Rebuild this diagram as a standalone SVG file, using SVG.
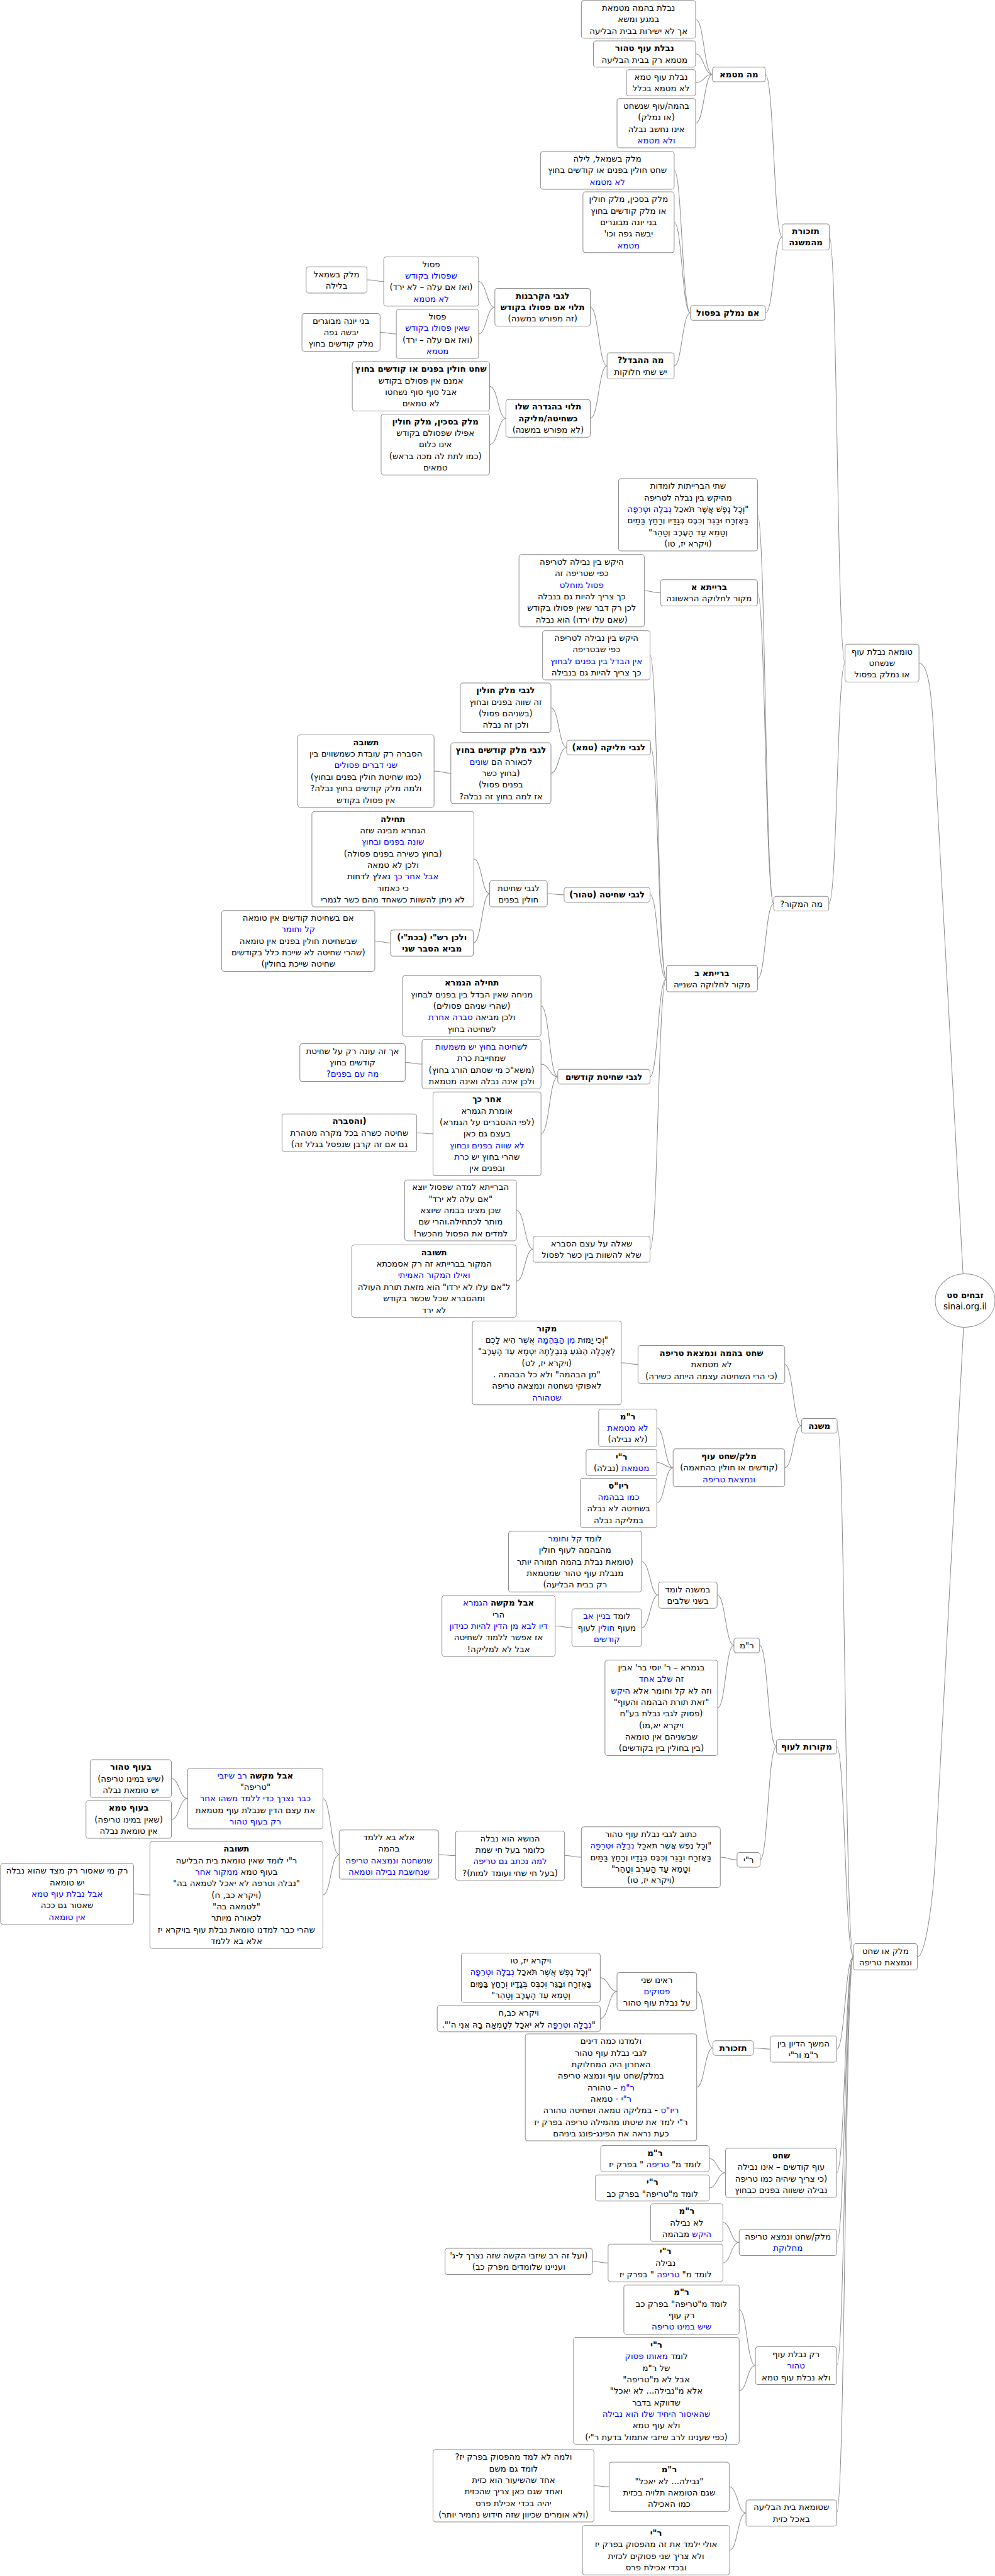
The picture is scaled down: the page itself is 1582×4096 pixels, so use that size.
<svg xmlns="http://www.w3.org/2000/svg" width="1582" height="4096" viewBox="0 0 1582 4096">
<style>
.n rect{fill:#fff;stroke:#8c8c8c;stroke-width:1.2}
.n ellipse{fill:#fff;stroke:#8c8c8c;stroke-width:1.2}
text{font-family:"DejaVu Sans",sans-serif;font-size:16px;fill:#000;text-anchor:middle;direction:rtl;unicode-bidi:embed}
.b{font-weight:bold}
.bl{fill:#0000ff}
#edges path{fill:none;stroke:#8c8c8c;stroke-width:1.2}
</style>
<rect width="1582" height="4096" fill="#fff"/>
<g transform="scale(0.8335)">
<g id="edges">
<path d="M1327 37C1343 37 1343 142 1359 142"/>
<path d="M1327 103C1343 103 1343 142 1359 142"/>
<path d="M1327 158C1343 158 1343 142 1359 142"/>
<path d="M1327 235C1343 235 1343 142 1359 142"/>
<path d="M1286 325C1301 325 1301 597 1317 597"/>
<path d="M1286 424C1301 424 1301 597 1317 597"/>
<path d="M1286 698C1301 698 1301 597 1317 597"/>
<path d="M1460 142C1476 142 1476 452 1492 452"/>
<path d="M1460 597C1476 597 1476 452 1492 452"/>
<path d="M1582 452C1597 452 1597 1265 1612 1265"/>
<path d="M1581 1724C1597 1724 1597 1265 1612 1265"/>
<path d="M1126 586C1142 586 1142 698 1158 698"/>
<path d="M1126 798C1142 798 1142 698 1158 698"/>
<path d="M913 537C928 537 928 586 944 586"/>
<path d="M913 637C928 637 928 586 944 586"/>
<path d="M700 534C716 534 716 537 732 537"/>
<path d="M725 634C740 634 740 637 756 637"/>
<path d="M934 737C950 737 950 798 965 798"/>
<path d="M934 848C950 848 950 798 965 798"/>
<path d="M1753 1265C1772 1265 1778 1330 1782 1420L1837 2430"/>
<path d="M1445 982C1460 982 1460 1724 1476 1724"/>
<path d="M1445 1131C1460 1131 1460 1724 1476 1724"/>
<path d="M1445 1867C1460 1867 1460 1724 1476 1724"/>
<path d="M1229 1127C1244 1127 1244 1131 1260 1131"/>
<path d="M1240 1250C1255 1250 1255 1867 1271 1867"/>
<path d="M1241 1426C1256 1426 1256 1867 1271 1867"/>
<path d="M1240 1707C1255 1707 1255 1867 1271 1867"/>
<path d="M1240 2054C1255 2054 1255 1867 1271 1867"/>
<path d="M1240 2383C1255 2383 1255 1867 1271 1867"/>
<path d="M1051 1350C1066 1350 1066 1426 1081 1426"/>
<path d="M1051 1475C1066 1475 1066 1426 1081 1426"/>
<path d="M828 1471C844 1471 844 1475 860 1475"/>
<path d="M1044 1705C1060 1705 1060 1707 1076 1707"/>
<path d="M904 1639C919 1639 919 1705 934 1705"/>
<path d="M903 1799C919 1799 919 1705 934 1705"/>
<path d="M715 1795C730 1795 730 1799 745 1799"/>
<path d="M1032 1919C1048 1919 1048 2054 1064 2054"/>
<path d="M1032 2030C1048 2030 1048 2054 1064 2054"/>
<path d="M1032 2163C1048 2163 1048 2054 1064 2054"/>
<path d="M773 2027C789 2027 789 2030 805 2030"/>
<path d="M795 2161C810 2161 810 2163 826 2163"/>
<path d="M985 2309C1001 2309 1001 2383 1017 2383"/>
<path d="M985 2444C1001 2444 1001 2383 1017 2383"/>
<path d="M1838 2532L1785 3530C1780 3630 1765 3733 1750 3733"/>
<path d="M1597 2720C1612 2720 1612 3733 1628 3733"/>
<path d="M1596 3332C1612 3332 1612 3733 1628 3733"/>
<path d="M1596 3909C1612 3909 1612 3733 1628 3733"/>
<path d="M1596 4145C1612 4145 1612 3733 1628 3733"/>
<path d="M1596 4278C1612 4278 1612 3733 1628 3733"/>
<path d="M1596 4513C1612 4513 1612 3733 1628 3733"/>
<path d="M1596 4794C1612 4794 1612 3733 1628 3733"/>
<path d="M1497 2603C1513 2603 1513 2720 1529 2720"/>
<path d="M1497 2800C1513 2800 1513 2720 1529 2720"/>
<path d="M1185 2600C1201 2600 1201 2603 1217 2603"/>
<path d="M1253 2724C1268 2724 1268 2800 1284 2800"/>
<path d="M1253 2790C1268 2790 1268 2800 1284 2800"/>
<path d="M1253 2867C1268 2867 1268 2800 1284 2800"/>
<path d="M1449 3139C1465 3139 1465 3332 1481 3332"/>
<path d="M1450 3548C1465 3548 1465 3332 1481 3332"/>
<path d="M1368 3043C1384 3043 1384 3139 1400 3139"/>
<path d="M1369 3258C1384 3258 1384 3139 1400 3139"/>
<path d="M1224 2979C1240 2979 1240 3043 1256 3043"/>
<path d="M1224 3105C1240 3105 1240 3043 1256 3043"/>
<path d="M1059 3102C1075 3102 1075 3105 1091 3105"/>
<path d="M1374 3543C1390 3543 1390 3548 1406 3548"/>
<path d="M1077 3540C1093 3540 1093 3543 1109 3543"/>
<path d="M837 3538C853 3538 853 3540 869 3540"/>
<path d="M616 3431C631 3431 631 3538 647 3538"/>
<path d="M616 3615C631 3615 631 3538 647 3538"/>
<path d="M327 3393C342 3393 342 3431 358 3431"/>
<path d="M327 3471C342 3471 342 3431 358 3431"/>
<path d="M255 3613C270 3613 270 3615 286 3615"/>
<path d="M1437 3907C1453 3907 1453 3909 1469 3909"/>
<path d="M1329 3799C1344 3799 1344 3907 1360 3907"/>
<path d="M1329 3982C1344 3982 1344 3907 1360 3907"/>
<path d="M1145 3773C1161 3773 1161 3799 1177 3799"/>
<path d="M1145 3851C1161 3851 1161 3799 1177 3799"/>
<path d="M1353 4118C1368 4118 1368 4145 1384 4145"/>
<path d="M1353 4174C1368 4174 1368 4145 1384 4145"/>
<path d="M1379 4240C1394 4240 1394 4278 1410 4278"/>
<path d="M1379 4317C1394 4317 1394 4278 1410 4278"/>
<path d="M1130 4314C1145 4314 1145 4317 1160 4317"/>
<path d="M1410 4406C1425 4406 1425 4513 1441 4513"/>
<path d="M1410 4561C1425 4561 1425 4513 1441 4513"/>
<path d="M1391 4744C1407 4744 1407 4794 1423 4794"/>
<path d="M1392 4865C1407 4865 1407 4794 1423 4794"/>
<path d="M1133 4742C1147 4742 1147 4744 1162 4744"/>
</g>

<g id="root" class="n"><ellipse cx="1841" cy="2481" rx="57" ry="51"/><text x="1841" y="2476" class="b">זבחים סט</text><text x="1841" y="2498" style="direction:ltr">sinai.org.il</text></g>

<g id="a1" class="n"><rect x="1109" y="1" width="218" height="72" rx="5"/><text x="1218" y="20.5">נבלת בהמה מטמאת</text><text x="1218" y="42.5">במגע ומשא</text><text x="1218" y="64.5">אך לא ישירות בבית הבליעה</text></g>
<g id="a2" class="n"><rect x="1132" y="78" width="195" height="50" rx="5"/><text x="1229.5" y="97.5" class="b">נבלת עוף טהור</text><text x="1229.5" y="119.5">מטמא רק בבית הבליעה</text></g>
<g id="a3" class="n"><rect x="1195" y="133" width="132" height="50" rx="5"/><text x="1261" y="152.5">נבלת עוף טמא</text><text x="1261" y="174.5">לא מטמא בכלל</text></g>
<g id="a4" class="n"><rect x="1177" y="188" width="150" height="94" rx="5"/><text x="1252" y="207.5">בהמה/עוף שנשחט</text><text x="1252" y="229.5">(או נמלק)</text><text x="1252" y="251.5">אינו נחשב נבלה</text><text x="1252" y="273.5" class="bl">ולא מטמא</text></g>
<g id="a5" class="n"><rect x="1359" y="128" width="101" height="28" rx="5"/><text x="1409.5" y="147.5" class="b">מה מטמא</text></g>
<g id="a6" class="n"><rect x="1492" y="427" width="90" height="50" rx="5"/><text x="1537" y="446.5" class="b">תזכורת</text><text x="1537" y="468.5" class="b">מהמשנה</text></g>
<g id="a7" class="n"><rect x="1031" y="289" width="255" height="72" rx="5"/><text x="1158.5" y="308.5">מלק בשמאל, לילה</text><text x="1158.5" y="330.5">שחט חולין בפנים או קודשים בחוץ</text><text x="1158.5" y="352.5" class="bl">לא מטמא</text></g>
<g id="a8" class="n"><rect x="1112" y="366" width="174" height="116" rx="5"/><text x="1199" y="385.5">מלק בסכין, מלק חולין</text><text x="1199" y="407.5">או מלק קודשים בחוץ</text><text x="1199" y="429.5">בני יונה מבוגרים</text><text x="1199" y="451.5">יבשה גפה וכו'</text><text x="1199" y="473.5" class="bl">מטמא</text></g>
<g id="a9" class="n"><rect x="1317" y="583" width="143" height="28" rx="5"/><text x="1388.5" y="602.5" class="b">אם נמלק בפסול</text></g>
<g id="a10" class="n"><rect x="1158" y="673" width="128" height="50" rx="5"/><text x="1222" y="692.5" class="b">מה ההבדל?</text><text x="1222" y="714.5">יש שתי חלוקות</text></g>
<g id="a11" class="n"><rect x="944" y="550" width="182" height="72" rx="5"/><text x="1035" y="569.5" class="b">לגבי הקרבנות</text><text x="1035" y="591.5" class="b">תלוי אם פסולו בקודש</text><text x="1035" y="613.5">(זה מפורש במשנה)</text></g>
<g id="a12" class="n"><rect x="965" y="762" width="161" height="72" rx="5"/><text x="1045.5" y="781.5" class="b">תלוי בהגדרה שלו</text><text x="1045.5" y="803.5" class="b">כשחיטה/מליקה</text><text x="1045.5" y="825.5">(לא מפורש במשנה)</text></g>
<g id="a13" class="n"><rect x="732" y="490" width="181" height="94" rx="5"/><text x="822.5" y="509.5">פסול</text><text x="822.5" y="531.5" class="bl">שפסולו בקודש</text><text x="822.5" y="553.5">(ואז אם עלה – לא ירד)</text><text x="822.5" y="575.5" class="bl">לא מטמא</text></g>
<g id="a14" class="n"><rect x="756" y="590" width="157" height="94" rx="5"/><text x="834.5" y="609.5">פסול</text><text x="834.5" y="631.5" class="bl">שאין פסולו בקודש</text><text x="834.5" y="653.5">(ואז אם עלה – ירד)</text><text x="834.5" y="675.5" class="bl">מטמא</text></g>
<g id="a15" class="n"><rect x="584" y="509" width="116" height="50" rx="5"/><text x="642" y="528.5">מלק בשמאל</text><text x="642" y="550.5">בלילה</text></g>
<g id="a16" class="n"><rect x="576" y="598" width="149" height="72" rx="5"/><text x="650.5" y="617.5">בני יונה מבוגרים</text><text x="650.5" y="639.5">יבשה גפה</text><text x="650.5" y="661.5">מלק קודשים בחוץ</text></g>
<g id="a17" class="n"><rect x="672" y="690" width="262" height="94" rx="5"/><text x="803" y="709.5" class="b">שחט חולין בפנים או קודשים בחוץ</text><text x="803" y="731.5">אמנם אין פסולם בקודש</text><text x="803" y="753.5">אבל סוף סוף נשחטו</text><text x="803" y="775.5">לא טמאים</text></g>
<g id="a18" class="n"><rect x="727" y="790" width="207" height="116" rx="5"/><text x="830.5" y="809.5" class="b">מלק בסכין, מלק חולין</text><text x="830.5" y="831.5">אפילו שפסולם בקודש</text><text x="830.5" y="853.5">אינו כלום</text><text x="830.5" y="875.5">(כמו לתת לה מכה בראש)</text><text x="830.5" y="897.5">טמאים</text></g>

<g id="b1" class="n"><rect x="1612" y="1229" width="141" height="72" rx="5"/><text x="1682.5" y="1248.5">טומאה נבלת עוף</text><text x="1682.5" y="1270.5">שנשחט</text><text x="1682.5" y="1292.5">או נמלק בפסול</text></g>
<g id="b2" class="n"><rect x="1476" y="1710" width="105" height="28" rx="5"/><text x="1528.5" y="1729.5">מה המקור?</text></g>
<g id="b3" class="n"><rect x="1180" y="913" width="265" height="138" rx="5"/><text x="1312.5" y="932.5">שתי הברייתות לומדות</text><text x="1312.5" y="954.5">מהיקש בין נבלה לטריפה</text><text x="1312.5" y="976.5">"וְכָל נֶפֶשׁ אֲשֶׁר תֹּאכַל <tspan class="bl">נְבֵלָה וּטְרֵפָה</tspan></text><text x="1312.5" y="998.5">בָּאֶזְרָח וּבַגֵּר וְכִבֶּס בְּגָדָיו וְרָחַץ בַּמַּיִם</text><text x="1312.5" y="1020.5">וְטָמֵא עַד הָעֶרֶב וְטָהֵר"</text><text x="1312.5" y="1042.5">(ויקרא יז, טו)</text></g>
<g id="b4" class="n"><rect x="1260" y="1106" width="185" height="50" rx="5"/><text x="1352.5" y="1125.5" class="b">ברייתא א</text><text x="1352.5" y="1147.5">מקור לחלוקה הראשונה</text></g>
<g id="b5" class="n"><rect x="990" y="1058" width="239" height="138" rx="5"/><text x="1109.5" y="1077.5">היקש בין נבילה לטריפה</text><text x="1109.5" y="1099.5">כפי שטריפה זה</text><text x="1109.5" y="1121.5" class="bl">פסול מוחלט</text><text x="1109.5" y="1143.5">כך צריך להיות גם בנבלה</text><text x="1109.5" y="1165.5">לכן רק דבר שאין פסולו בקודש</text><text x="1109.5" y="1187.5">(שאם עלו ירדו) הוא נבלה</text></g>
<g id="b6" class="n"><rect x="1271" y="1842" width="174" height="50" rx="5"/><text x="1358" y="1861.5" class="b">ברייתא ב</text><text x="1358" y="1883.5">מקור לחלוקה השנייה</text></g>
<g id="b7" class="n"><rect x="1035" y="1203" width="205" height="94" rx="5"/><text x="1137.5" y="1222.5">היקש בין נבילה לטריפה</text><text x="1137.5" y="1244.5">כפי שבטריפה</text><text x="1137.5" y="1266.5" class="bl">אין הבדל בין בפנים לבחוץ</text><text x="1137.5" y="1288.5">כך צריך להיות גם בנבילה</text></g>
<g id="b8" class="n"><rect x="1081" y="1412" width="160" height="28" rx="5"/><text x="1161" y="1431.5" class="b">לגבי מליקה (טמא)</text></g>
<g id="b9" class="n"><rect x="878" y="1303" width="173" height="94" rx="5"/><text x="964.5" y="1322.5" class="b">לגבי מלק חולין</text><text x="964.5" y="1344.5">זה שווה בפנים ובחוץ</text><text x="964.5" y="1366.5">(בשניהם פסול)</text><text x="964.5" y="1388.5">ולכן זה נבלה</text></g>
<g id="b10" class="n"><rect x="860" y="1417" width="191" height="116" rx="5"/><text x="955.5" y="1436.5" class="b">לגבי מלק קודשים בחוץ</text><text x="955.5" y="1458.5">לכאורה הם <tspan class="bl">שונים</tspan></text><text x="955.5" y="1480.5">(בחוץ כשר</text><text x="955.5" y="1502.5">בפנים פסול)</text><text x="955.5" y="1524.5">אז למה בחוץ זה נבלה?</text></g>
<g id="b11" class="n"><rect x="568" y="1402" width="260" height="138" rx="5"/><text x="698" y="1421.5" class="b">תשובה</text><text x="698" y="1443.5">הסברה רק עובדת כשמשווים בין</text><text x="698" y="1465.5" class="bl">שני דברים פסולים</text><text x="698" y="1487.5">(כמו שחיטת חולין בפנים ובחוץ)</text><text x="698" y="1509.5">ולמה מלק קודשים בחוץ נבלה?</text><text x="698" y="1531.5">אין פסולו בקודש</text></g>
<g id="b12" class="n"><rect x="1076" y="1693" width="164" height="28" rx="5"/><text x="1158" y="1712.5" class="b">לגבי שחיטה (טהור)</text></g>
<g id="b13" class="n"><rect x="934" y="1680" width="110" height="50" rx="5"/><text x="989" y="1699.5">לגבי שחיטת</text><text x="989" y="1721.5">חולין בפנים</text></g>
<g id="b14" class="n"><rect x="595" y="1548" width="309" height="182" rx="5"/><text x="749.5" y="1567.5" class="b">תחילה</text><text x="749.5" y="1589.5">הגמרא מבינה שזה</text><text x="749.5" y="1611.5" class="bl">שונה בפנים ובחוץ</text><text x="749.5" y="1633.5">(בחוץ כשירה בפנים פסולה)</text><text x="749.5" y="1655.5">ולכן לא טמאה</text><text x="749.5" y="1677.5"><tspan class="bl">אבל אחר כך</tspan> נאלץ לדחות</text><text x="749.5" y="1699.5">כי כאמור</text><text x="749.5" y="1721.5">לא ניתן להשוות כשאחד מהם כשר לגמרי</text></g>
<g id="b15" class="n"><rect x="745" y="1774" width="158" height="50" rx="5"/><text x="824" y="1793.5" class="b">ולכן רש"י (בכת"י)</text><text x="824" y="1815.5" class="b">מביא הסבר שני</text></g>
<g id="b16" class="n"><rect x="423" y="1737" width="292" height="116" rx="5"/><text x="569" y="1756.5">אם בשחיטת קודשים אין טומאה</text><text x="569" y="1778.5" class="bl">קל וחומר</text><text x="569" y="1800.5">שבשחיטת חולין בפנים אין טומאה</text><text x="569" y="1822.5">(שהרי שחיטה לא שייכת כלל בקודשים</text><text x="569" y="1844.5">שחיטה שייכת בחולין)</text></g>
<g id="b17" class="n"><rect x="1064" y="2040" width="176" height="28" rx="5"/><text x="1152" y="2059.5" class="b">לגבי שחיטת קודשים</text></g>
<g id="b18" class="n"><rect x="768" y="1861" width="264" height="116" rx="5"/><text x="900" y="1880.5" class="b">תחילה הגמרא</text><text x="900" y="1902.5">מניחה שאין הבדל בין בפנים לבחוץ</text><text x="900" y="1924.5">(שהרי שניהם פסולים)</text><text x="900" y="1946.5">ולכן מביאה <tspan class="bl">סברה אחרת</tspan></text><text x="900" y="1968.5">לשחיטה בחוץ</text></g>
<g id="b19" class="n"><rect x="805" y="1983" width="227" height="94" rx="5"/><text x="918.5" y="2002.5" class="bl">לשחיטה בחוץ יש משמעות</text><text x="918.5" y="2024.5">שמחייבת כרת</text><text x="918.5" y="2046.5">(משא"כ מי שסתם הורג בחוץ)</text><text x="918.5" y="2068.5">ולכן אינה נבלה ואינה מטמאת</text></g>
<g id="b20" class="n"><rect x="572" y="1991" width="201" height="72" rx="5"/><text x="672.5" y="2010.5">אך זה עונה רק על שחיטת</text><text x="672.5" y="2032.5">קודשים בחוץ</text><text x="672.5" y="2054.5" class="bl">מה עם בפנים?</text></g>
<g id="b21" class="n"><rect x="826" y="2083" width="206" height="160" rx="5"/><text x="929" y="2102.5" class="b">אחר כך</text><text x="929" y="2124.5">אומרת הגמרא</text><text x="929" y="2146.5">(לפי ההסברים על הגמרא)</text><text x="929" y="2168.5">בעצם גם כאן</text><text x="929" y="2190.5" class="bl">לא שווה בפנים ובחוץ</text><text x="929" y="2212.5">שהרי בחוץ יש <tspan class="bl">כרת</tspan></text><text x="929" y="2234.5">ובפנים אין</text></g>
<g id="b22" class="n"><rect x="538" y="2125" width="257" height="72" rx="5"/><text x="666.5" y="2144.5" class="b">(והסברה</text><text x="666.5" y="2166.5">שחיטה כשרה בכל מקרה מטהרת</text><text x="666.5" y="2188.5">גם אם זה קרבן שנפסל בגלל זה)</text></g>
<g id="b23" class="n"><rect x="1017" y="2358" width="223" height="50" rx="5"/><text x="1128.5" y="2377.5">שאלה על עצם הסברא</text><text x="1128.5" y="2399.5">שלא להשוות בין כשר לפסול</text></g>
<g id="b24" class="n"><rect x="772" y="2251" width="213" height="116" rx="5"/><text x="878.5" y="2270.5">הברייתא למדה שפסול יוצא</text><text x="878.5" y="2292.5">"אם עלה לא ירד"</text><text x="878.5" y="2314.5">שכן מצינו בבמה שיוצא</text><text x="878.5" y="2336.5">מותר לכתחילה.והרי שם</text><text x="878.5" y="2358.5">למדים את הפסול מהכשר!</text></g>
<g id="b25" class="n"><rect x="671" y="2375" width="314" height="138" rx="5"/><text x="828" y="2394.5" class="b">תשובה</text><text x="828" y="2416.5">המקור בברייתא זה רק אסמכתא</text><text x="828" y="2438.5" class="bl">ואילו המקור האמיתי</text><text x="828" y="2460.5">ל"אם עלו לא ירדו" הוא מזאת תורת העולה</text><text x="828" y="2482.5">ומהסברא שכל שכשר בקודש</text><text x="828" y="2504.5">לא ירד</text></g>

<g id="c1" class="n"><rect x="1628" y="3708" width="122" height="50" rx="5"/><text x="1689" y="3727.5">מלק או שחט</text><text x="1689" y="3749.5">ונמצאת טריפה</text></g>
<g id="c2" class="n"><rect x="1529" y="2706" width="68" height="28" rx="5"/><text x="1563" y="2725.5" class="b">משנה</text></g>
<g id="c3" class="n"><rect x="1217" y="2567" width="280" height="72" rx="5"/><text x="1357" y="2586.5" class="b">שחט בהמה ונמצאת טריפה</text><text x="1357" y="2608.5">לא מטמאת</text><text x="1357" y="2630.5">(כי הרי השחיטה עצמה הייתה כשירה)</text></g>
<g id="c4" class="n"><rect x="901" y="2520" width="284" height="160" rx="5"/><text x="1043" y="2539.5" class="b">מקור</text><text x="1043" y="2561.5">"וְכִי יָמוּת <tspan class="bl">מִן הַבְּהֵמָה</tspan> אֲשֶׁר הִיא לָכֶם</text><text x="1043" y="2583.5">לְאָכְלָה הַנֹּגֵעַ בְּנִבְלָתָהּ יִטְמָא עַד הָעָרֶב"</text><text x="1043" y="2605.5">(ויקרא יז, לט)</text><text x="1043" y="2627.5">"מן הבהמה" ולא כל הבהמה .</text><text x="1043" y="2649.5">לאפוקי נשחטה ונמצאה טריפה</text><text x="1043" y="2671.5" class="bl">שטהורה</text></g>
<g id="c5" class="n"><rect x="1284" y="2764" width="213" height="72" rx="5"/><text x="1390.5" y="2783.5" class="b">מלק/שחט עוף</text><text x="1390.5" y="2805.5">(קודשים או חולין בהתאמה)</text><text x="1390.5" y="2827.5" class="bl">ונמצאת טריפה</text></g>
<g id="c6" class="n"><rect x="1142" y="2688" width="111" height="72" rx="5"/><text x="1197.5" y="2707.5" class="b">ר"מ</text><text x="1197.5" y="2729.5" class="bl">לא מטמאת</text><text x="1197.5" y="2751.5">(לא נבילה)</text></g>
<g id="c7" class="n"><rect x="1118" y="2765" width="135" height="50" rx="5"/><text x="1185.5" y="2784.5" class="b">ר"י</text><text x="1185.5" y="2806.5"><tspan class="bl">מטמאת</tspan> (נבלה)</text></g>
<g id="c8" class="n"><rect x="1107" y="2820" width="146" height="94" rx="5"/><text x="1180" y="2839.5" class="b">ריו"ס</text><text x="1180" y="2861.5" class="bl">כמו בבהמה</text><text x="1180" y="2883.5">בשחיטה לא נבלה</text><text x="1180" y="2905.5">במליקה נבלה</text></g>
<g id="c9" class="n"><rect x="1481" y="3318" width="115" height="28" rx="5"/><text x="1538.5" y="3337.5" class="b">מקורות לעוף</text></g>
<g id="c10" class="n"><rect x="1400" y="3125" width="49" height="28" rx="5"/><text x="1424.5" y="3144.5">ר"מ</text></g>
<g id="c11" class="n"><rect x="1256" y="3018" width="112" height="50" rx="5"/><text x="1312" y="3037.5">במשנה לומד</text><text x="1312" y="3059.5">בשני שלבים</text></g>
<g id="c12" class="n"><rect x="970" y="2921" width="254" height="116" rx="5"/><text x="1097" y="2940.5">לומד <tspan class="bl">קל וחומר</tspan></text><text x="1097" y="2962.5">מהבהמה לעוף חולין</text><text x="1097" y="2984.5">(טומאת נבלת בהמה חמורה יותר</text><text x="1097" y="3006.5">מנבלת עוף טהור שמטמאת</text><text x="1097" y="3028.5">רק בבית הבליעה)</text></g>
<g id="c13" class="n"><rect x="1091" y="3069" width="133" height="72" rx="5"/><text x="1157.5" y="3088.5">לומד <tspan class="bl">בניין אב</tspan></text><text x="1157.5" y="3110.5">מעוף <tspan class="bl">חולין</tspan> לעוף</text><text x="1157.5" y="3132.5" class="bl">קודשים</text></g>
<g id="c14" class="n"><rect x="843" y="3044" width="216" height="116" rx="5"/><text x="951" y="3063.5"><tspan class="b">אבל מקשה</tspan> <tspan class="bl">הגמרא</tspan></text><text x="951" y="3085.5">הרי</text><text x="951" y="3107.5" class="bl">דיו לבא מן הדין להיות כנידון</text><text x="951" y="3129.5">אז אפשר ללמוד לשחיטה</text><text x="951" y="3151.5">אבל לא למליקה!</text></g>
<g id="c15" class="n"><rect x="1154" y="3167" width="215" height="182" rx="5"/><text x="1261.5" y="3186.5">בגמרא – ר' יוסי בר' אבין</text><text x="1261.5" y="3208.5">זה <tspan class="bl">שלב אחד</tspan></text><text x="1261.5" y="3230.5">וזה לא קל וחומר אלא <tspan class="bl">היקש</tspan></text><text x="1261.5" y="3252.5">"זאת תורת הבהמה והעוף"</text><text x="1261.5" y="3274.5">(פסוק לגבי נבלת בע"ח</text><text x="1261.5" y="3296.5">ויקרא יא,מו)</text><text x="1261.5" y="3318.5">שבשניהם אין טומאה</text><text x="1261.5" y="3340.5">(בין בחולין בין בקודשים)</text></g>
<g id="c16" class="n"><rect x="1406" y="3534" width="44" height="28" rx="5"/><text x="1428" y="3553.5">ר"י</text></g>
<g id="c17" class="n"><rect x="1109" y="3485" width="265" height="116" rx="5"/><text x="1241.5" y="3504.5">כתוב לגבי נבלת עוף טהור</text><text x="1241.5" y="3526.5">"וְכָל נֶפֶשׁ אֲשֶׁר תֹּאכַל <tspan class="bl">נְבֵלָה וּטְרֵפָה</tspan></text><text x="1241.5" y="3548.5">בָּאֶזְרָח וּבַגֵּר וְכִבֶּס בְּגָדָיו וְרָחַץ בַּמַּיִם</text><text x="1241.5" y="3570.5">וְטָמֵא עַד הָעֶרֶב וְטָהֵר"</text><text x="1241.5" y="3592.5">(ויקרא יז, טו)</text></g>
<g id="c18" class="n"><rect x="869" y="3493" width="208" height="94" rx="5"/><text x="973" y="3512.5">הנושא הוא נבלה</text><text x="973" y="3534.5">כלומר בעל חי שמת</text><text x="973" y="3556.5" class="bl">למה נכתב גם טריפה</text><text x="973" y="3578.5">(בעל חי שחי ועומד למות)?</text></g>
<g id="c19" class="n"><rect x="647" y="3491" width="190" height="94" rx="5"/><text x="742" y="3510.5">אלא בא ללמד</text><text x="742" y="3532.5">בהמה</text><text x="742" y="3554.5" class="bl">שנשחטה ונמצאה טריפה</text><text x="742" y="3576.5" class="bl">שנחשבת נבילה וטמאה</text></g>
<g id="c20" class="n"><rect x="358" y="3373" width="258" height="116" rx="5"/><text x="487" y="3392.5"><tspan class="b">אבל מקשה</tspan> <tspan class="bl">רב שיזבי</tspan></text><text x="487" y="3414.5">"טריפה"</text><text x="487" y="3436.5" class="bl">כבר נצרך כדי ללמד משהו אחר</text><text x="487" y="3458.5">את עצם הדין שנבלת עוף מטמאת</text><text x="487" y="3480.5" class="bl">רק בעוף טהור</text></g>
<g id="c21" class="n"><rect x="172" y="3357" width="155" height="72" rx="5"/><text x="249.5" y="3376.5" class="b">בעוף טהור</text><text x="249.5" y="3398.5">(שיש במינו טריפה)</text><text x="249.5" y="3420.5">יש טומאת נבלה</text></g>
<g id="c22" class="n"><rect x="164" y="3435" width="163" height="72" rx="5"/><text x="245.5" y="3454.5" class="b">בעוף טמא</text><text x="245.5" y="3476.5">(שאין במינו טריפה)</text><text x="245.5" y="3498.5">אין טומאת נבלה</text></g>
<g id="c23" class="n"><rect x="286" y="3513" width="330" height="204" rx="5"/><text x="451" y="3532.5" class="b">תשובה</text><text x="451" y="3554.5">ר"י לומד שאין טומאת בית הבליעה</text><text x="451" y="3576.5">בעוף טמא <tspan class="bl">ממקור אחר</tspan></text><text x="451" y="3598.5">"נבלה וטרפה לא יאכל לטמאה בה"</text><text x="451" y="3620.5">(ויקרא כב, ח)</text><text x="451" y="3642.5">"לטמאה בה"</text><text x="451" y="3664.5">לכאורה מיותר</text><text x="451" y="3686.5">שהרי כבר למדנו טומאת נבלת עוף בויקרא יז</text><text x="451" y="3708.5">אלא בא ללמד</text></g>
<g id="c24" class="n"><rect x="1" y="3555" width="254" height="116" rx="5"/><text x="128" y="3574.5">רק מי שאסור רק מצד שהוא נבלה</text><text x="128" y="3596.5">יש טומאה</text><text x="128" y="3618.5" class="bl">אבל נבלת עוף טמא</text><text x="128" y="3640.5">שאסור גם ככה</text><text x="128" y="3662.5" class="bl">אין טומאה</text></g>
<g id="c25" class="n"><rect x="1469" y="3884" width="127" height="50" rx="5"/><text x="1532.5" y="3903.5">המשך הדיון בין</text><text x="1532.5" y="3925.5">ר"מ ור"י</text></g>
<g id="c26" class="n"><rect x="1360" y="3893" width="77" height="28" rx="5"/><text x="1398.5" y="3912.5" class="b">תזכורת</text></g>
<g id="c27" class="n"><rect x="1177" y="3763" width="152" height="72" rx="5"/><text x="1253" y="3782.5">ראינו שני</text><text x="1253" y="3804.5" class="bl">פסוקים</text><text x="1253" y="3826.5">על נבלת עוף טהור</text></g>
<g id="c28" class="n"><rect x="880" y="3726" width="265" height="94" rx="5"/><text x="1012.5" y="3745.5">ויקרא יז, טו</text><text x="1012.5" y="3767.5">"וְכָל נֶפֶשׁ אֲשֶׁר תֹּאכַל <tspan class="bl">נְבֵלָה וּטְרֵפָה</tspan></text><text x="1012.5" y="3789.5">בָּאֶזְרָח וּבַגֵּר וְכִבֶּס בְּגָדָיו וְרָחַץ בַּמַּיִם</text><text x="1012.5" y="3811.5">וְטָמֵא עַד הָעֶרֶב וְטָהֵר"</text></g>
<g id="c29" class="n"><rect x="834" y="3826" width="311" height="50" rx="5"/><text x="989.5" y="3845.5">ויקרא כב,ח</text><text x="989.5" y="3867.5">"<tspan class="bl">נְבֵלָה וּטְרֵפָה</tspan> לֹא יֹאכַל לְטָמְאָה בָהּ אֲנִי ה'".</text></g>
<g id="c30" class="n"><rect x="1002" y="3880" width="327" height="204" rx="5"/><text x="1165.5" y="3899.5">ולמדנו כמה דינים</text><text x="1165.5" y="3921.5">לגבי נבלת עוף טהור</text><text x="1165.5" y="3943.5">האחרון היה המחלוקת</text><text x="1165.5" y="3965.5">במלק/שחט עוף ונמצא טריפה</text><text x="1165.5" y="3987.5"><tspan class="bl">ר"מ</tspan> – טהורה</text><text x="1165.5" y="4009.5"><tspan class="bl">ר"י</tspan> - טמאה</text><text x="1165.5" y="4031.5"><tspan class="bl">ריו"ס</tspan> <tspan class="b">-</tspan> במליקה טמאה ושחיטה טהורה</text><text x="1165.5" y="4053.5">ר"י למד את שיטתו מהמילה טריפה בפרק יז</text><text x="1165.5" y="4075.5">כעת נראה את הפינג-פונג ביניהם</text></g>
<g id="c31" class="n"><rect x="1384" y="4098" width="212" height="94" rx="5"/><text x="1490" y="4117.5" class="b">שחט</text><text x="1490" y="4139.5">עוף קודשים – אינו נבילה</text><text x="1490" y="4161.5">(כי צריך שיהיה כמו טריפה</text><text x="1490" y="4183.5">נבילה ששווה בפנים כבחוץ</text></g>
<g id="c32" class="n"><rect x="1146" y="4093" width="207" height="50" rx="5"/><text x="1249.5" y="4112.5" class="b">ר"מ</text><text x="1249.5" y="4134.5">לומד מ" <tspan class="bl">טריפה</tspan> " בפרק יז</text></g>
<g id="c33" class="n"><rect x="1136" y="4149" width="217" height="50" rx="5"/><text x="1244.5" y="4168.5" class="b">ר"י</text><text x="1244.5" y="4190.5">לומד מ"טריפה" בפרק כב</text></g>
<g id="c34" class="n"><rect x="1410" y="4253" width="186" height="50" rx="5"/><text x="1503" y="4272.5">מלק/שחט ונמצא טריפה</text><text x="1503" y="4294.5" class="bl">מחלוקת</text></g>
<g id="c35" class="n"><rect x="1241" y="4204" width="138" height="72" rx="5"/><text x="1310" y="4223.5" class="b">ר"מ</text><text x="1310" y="4245.5">לא נבילה</text><text x="1310" y="4267.5"><tspan class="bl">היקש</tspan> מבהמה</text></g>
<g id="c36" class="n"><rect x="1160" y="4281" width="219" height="72" rx="5"/><text x="1269.5" y="4300.5" class="b">ר"י</text><text x="1269.5" y="4322.5">נבילה</text><text x="1269.5" y="4344.5">לומד מ" <tspan class="bl">טריפה</tspan> " בפרק יז</text></g>
<g id="c37" class="n"><rect x="849" y="4289" width="281" height="50" rx="5"/><text x="989.5" y="4308.5">(ועל זה רב שיזבי הקשה שזה נצרך ל-ג'</text><text x="989.5" y="4330.5">ועניינו שלומדים מפרק כב)</text></g>
<g id="c38" class="n"><rect x="1441" y="4477" width="155" height="72" rx="5"/><text x="1518.5" y="4496.5">רק נבלת עוף</text><text x="1518.5" y="4518.5" class="bl">טהור</text><text x="1518.5" y="4540.5">ולא נבלת עוף טמא</text></g>
<g id="c39" class="n"><rect x="1190" y="4359" width="220" height="94" rx="5"/><text x="1300" y="4378.5" class="b">ר"מ</text><text x="1300" y="4400.5">לומד מ"טריפה" בפרק כב</text><text x="1300" y="4422.5">רק עוף</text><text x="1300" y="4444.5" class="bl">שיש במינו טריפה</text></g>
<g id="c40" class="n"><rect x="1094" y="4459" width="316" height="204" rx="5"/><text x="1252" y="4478.5" class="b">ר"י</text><text x="1252" y="4500.5">לומד <tspan class="bl">מאותו פסוק</tspan></text><text x="1252" y="4522.5">של ר"מ</text><text x="1252" y="4544.5">אבל לא מ"טריפה"</text><text x="1252" y="4566.5">אלא מ"נבילה... לא יאכל"</text><text x="1252" y="4588.5">שדווקא בדבר</text><text x="1252" y="4610.5" class="bl">שהאיסור היחיד שלו הוא נבילה</text><text x="1252" y="4632.5">ולא עוף טמא</text><text x="1252" y="4654.5">(כפי שענינו לרב שיזבי אתמול בדעת ר"י)</text></g>
<g id="c41" class="n"><rect x="1423" y="4769" width="173" height="50" rx="5"/><text x="1509.5" y="4788.5">שטומאת בית הבליעה</text><text x="1509.5" y="4810.5">באכל כזית</text></g>
<g id="c42" class="n"><rect x="1162" y="4697" width="229" height="94" rx="5"/><text x="1276.5" y="4716.5" class="b">ר"מ</text><text x="1276.5" y="4738.5">"נבילה... לא יאכל"</text><text x="1276.5" y="4760.5">שגם הטומאה תלויה בכזית</text><text x="1276.5" y="4782.5">כמו האכילה</text></g>
<g id="c43" class="n"><rect x="826" y="4673" width="307" height="138" rx="5"/><text x="979.5" y="4692.5">ולמה לא למד מהפסוק בפרק יז?</text><text x="979.5" y="4714.5">לומד גם משם</text><text x="979.5" y="4736.5">אחד שהשיעור הוא כזית</text><text x="979.5" y="4758.5">ואחד שגם כאן צריך שהכזית</text><text x="979.5" y="4780.5">יהיה בכדי אכילת פרס</text><text x="979.5" y="4802.5">(ולא אומרים שכיוון שזה חידוש נחמיר יותר)</text></g>
<g id="c44" class="n"><rect x="1111" y="4818" width="281" height="94" rx="5"/><text x="1251.5" y="4837.5" class="b">ר"י</text><text x="1251.5" y="4859.5">אולי ילמד את זה מהפסוק בפרק יז</text><text x="1251.5" y="4881.5">ולא צריך שני פסוקים לכזית</text><text x="1251.5" y="4903.5">ובכדי אכילת פרס</text></g>
</g>
</svg>
